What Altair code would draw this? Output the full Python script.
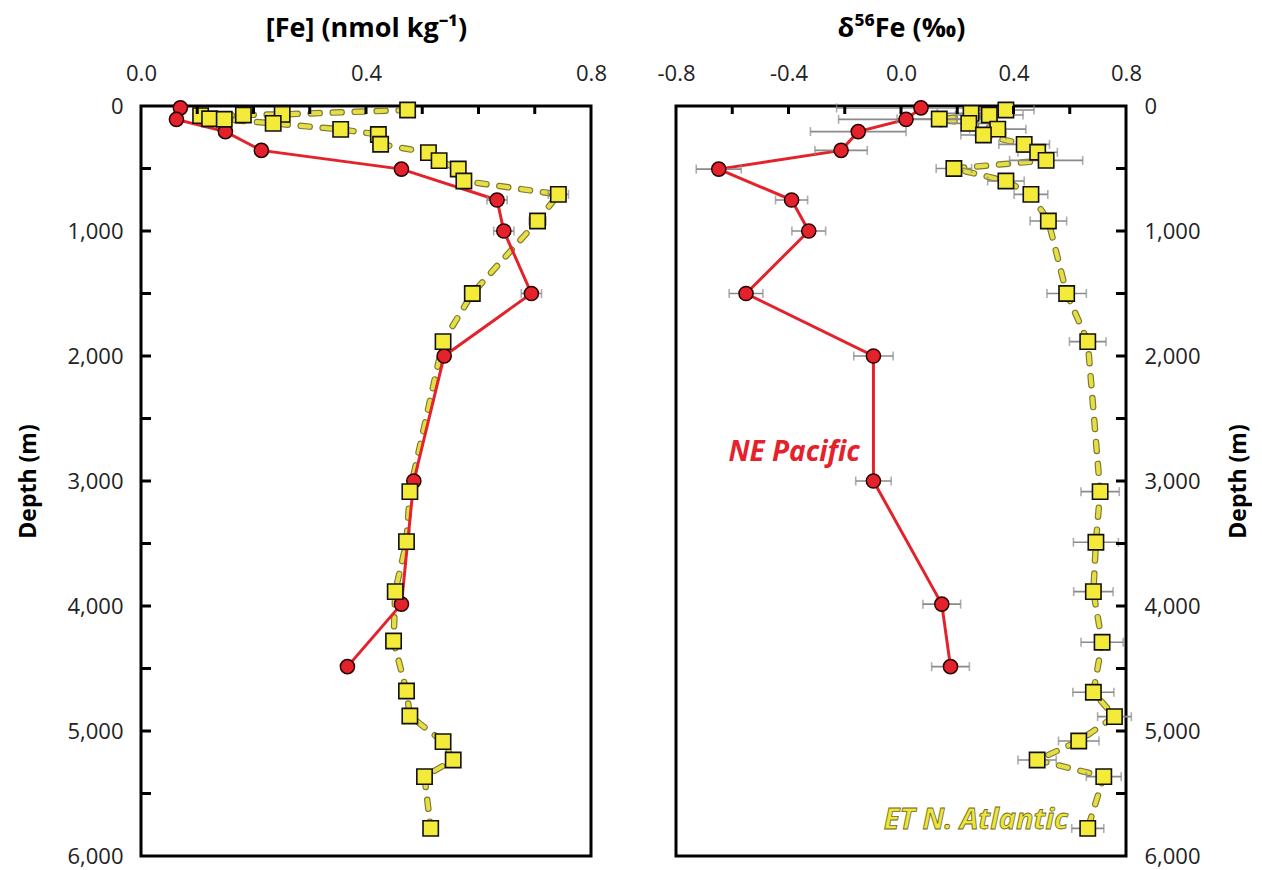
import altair as alt
import pandas as pd

# ---------------- data ----------------
# NE Pacific (red circles)
pac_depth = [15, 107, 205, 355, 505, 752, 1000, 1500, 2000, 3000, 3985, 4485]
pac_fe = [0.070, 0.063, 0.150, 0.214, 0.463, 0.633, 0.645, 0.694, 0.539, 0.485, 0.463, 0.367]
pac_fe_err = [0.008, 0.008, 0.008, 0.008, 0.008, 0.018, 0.018, 0.018, 0.008, 0.008, 0.008, 0.008]
pac_d56 = [0.071, 0.018, -0.152, -0.213, -0.648, -0.389, -0.328, -0.551, -0.098, -0.098, 0.145, 0.176]
pac_d56_err = [0.30, 0.24, 0.17, 0.093, 0.08, 0.057, 0.06, 0.06, 0.07, 0.063, 0.067, 0.067]

# ET N. Atlantic (yellow squares) - [Fe]
atl_fe_depth = [32, 67, 72, 77, 102, 106, 139, 187, 228, 306, 373, 437, 504, 600, 707, 920,
                1500, 1885, 3085, 3485, 3885, 4280, 4680, 4880, 5085, 5232, 5365, 5779]
atl_fe = [0.474, 0.251, 0.182, 0.106, 0.122, 0.148, 0.235, 0.355, 0.422, 0.426, 0.511, 0.530,
          0.564, 0.574, 0.742, 0.705, 0.589, 0.537, 0.478, 0.472, 0.452, 0.449, 0.472, 0.478,
          0.537, 0.555, 0.504, 0.515]
atl_fe_err = [0.008] * 14 + [0.018, 0.015] + [0.008] * 12

# ET N. Atlantic - d56Fe
atl_d_depth = [32, 59, 72, 104, 139, 185, 232, 307, 370, 435, 500, 600, 707, 920, 1500, 1885,
               3085, 3490, 3885, 4290, 4690, 4885, 5080, 5232, 5365, 5779]
atl_d56 = [0.373, 0.249, 0.314, 0.136, 0.241, 0.344, 0.293, 0.438, 0.486, 0.516, 0.188, 0.373,
           0.462, 0.524, 0.589, 0.664, 0.708, 0.693, 0.684, 0.715, 0.684, 0.759, 0.632, 0.484,
           0.721, 0.664]
atl_d56_err = [0.10, 0.12, 0.12, 0.15, 0.10, 0.10, 0.08, 0.09, 0.07, 0.13, 0.063, 0.065, 0.06,
               0.065, 0.07, 0.065, 0.068, 0.08, 0.07, 0.075, 0.073, 0.06, 0.072, 0.068, 0.062, 0.057]

# axis tick values / labels
depth_labels = [0, 1000, 2000, 3000, 4000, 5000, 6000]
depth_minor = [500, 1000, 1500, 2000, 2500, 3000, 3500, 4000, 4500, 5000, 5500]
fe_labels = [0.0, 0.4, 0.8]
fe_minor = [0.1, 0.2, 0.3, 0.4, 0.5, 0.6, 0.7]
d56_labels = [-0.8, -0.4, 0.0, 0.4, 0.8]
d56_minor = [-0.6, -0.4, -0.2, 0.0, 0.2, 0.4, 0.6]

# annotation labels
pac_label = ["NE Pacific"]
pac_label_x = [-0.38]
pac_label_depth = [2776]
atl_label = ["ET N. Atlantic"]
atl_label_x = [0.594]
atl_label_depth = [5712]

# ---------------- styling ----------------
FONT = "Open Sans"
W, H = 450, 750
RED = "#E4222B"
YEL = "#F4EA3A"
DASH_Y = "#E6DE48"
DASH_O = "#7E7A2C"
GRAY = "#8A8A8A"

yscale = alt.Scale(domain=[0, 6000], reverse=True, nice=False, zero=False)
fe_scale = alt.Scale(domain=[0, 0.8], nice=False, zero=False)
d_scale = alt.Scale(domain=[-0.8, 0.8], nice=False, zero=False)


def y_axis(orient):
    return alt.Axis(
        orient=orient, values=depth_labels, format=",.0f", title="Depth (m)",
        ticks=False, domain=False, grid=False, labelFlush=False, labelOverlap=False,
        labelFont=FONT, labelFontSize=22, labelColor="#222222",
        labelPadding=18,
        titleFont=FONT, titleFontSize=23, titleFontWeight="bold", titleColor="#000000",
        titlePadding=26 if orient == "left" else 50, titleAngle=270,
    )


def x_axis(title, values, fmt):
    return alt.Axis(
        orient="top", values=values, format=fmt, title=title,
        labelExpr="replace(datum.label, '\u2212', '-')",
        ticks=False, domain=False, grid=False, labelFlush=False, labelOverlap=False,
        labelFont=FONT, labelFontSize=22, labelColor="#222222", labelPadding=21,
        titleFont=FONT, titleFontSize=27, titleFontWeight="bold", titleColor="#000000",
        titlePadding=20,
    )


def panel(pac_x, pac_err, atl_depth, atl_x, atl_err, scale, xtitle, xlabels, xfmt,
          minor_x, orient, text_layers):
    pac = pd.DataFrame({"depth": pac_depth, "v": pac_x,
                        "lo": [a - b for a, b in zip(pac_x, pac_err)],
                        "hi": [a + b for a, b in zip(pac_x, pac_err)]})
    atl = pd.DataFrame({"depth": atl_depth, "v": atl_x,
                        "lo": [a - b for a, b in zip(atl_x, atl_err)],
                        "hi": [a + b for a, b in zip(atl_x, atl_err)]})
    allerr = pd.concat([pac, atl], ignore_index=True)

    xax = x_axis(xtitle, xlabels, xfmt)
    yax = y_axis(orient)
    Xf = lambda f: alt.X(f, scale=scale, axis=xax)
    Yf = lambda f: alt.Y(f, scale=yscale, axis=yax)

    dash_under = alt.Chart(atl).mark_line(
        color=DASH_O, strokeWidth=6.5, strokeDash=[9, 13], strokeCap="round"
    ).encode(x=Xf("v:Q"), y=Yf("depth:Q"), order="depth:Q")
    dash_top = alt.Chart(atl).mark_line(
        color=DASH_Y, strokeWidth=4.2, strokeDash=[9, 13], strokeCap="round"
    ).encode(x=Xf("v:Q"), y=Yf("depth:Q"), order="depth:Q")
    red_line = alt.Chart(pac).mark_line(color=RED, strokeWidth=3).encode(
        x=Xf("v:Q"), y=Yf("depth:Q"), order="depth:Q")
    err = alt.Chart(allerr).mark_rule(color=GRAY, strokeWidth=1.6).encode(
        x=Xf("lo:Q"), x2="hi:Q", y=Yf("depth:Q"))
    cap_lo = alt.Chart(allerr).mark_tick(orient="vertical", size=9, thickness=1.6,
                                         color=GRAY).encode(x=Xf("lo:Q"), y=Yf("depth:Q"))
    cap_hi = alt.Chart(allerr).mark_tick(orient="vertical", size=9, thickness=1.6,
                                         color=GRAY).encode(x=Xf("hi:Q"), y=Yf("depth:Q"))
    circles = alt.Chart(pac).mark_point(
        shape="circle", filled=True, size=200, fill=RED, stroke="#2a0000",
        strokeWidth=1.5, opacity=1).encode(x=Xf("v:Q"), y=Yf("depth:Q"))
    squares = alt.Chart(atl).mark_point(
        shape="square", filled=True, size=235, fill=YEL, stroke="#111111",
        strokeWidth=1.6, opacity=1).encode(x=Xf("v:Q"), y=Yf("depth:Q"))

    top_ticks = alt.Chart(pd.DataFrame({"t": minor_x})).mark_rule(
        color="black", strokeWidth=3).encode(x=Xf("t:Q"), y=alt.value(0), y2=alt.value(8))
    if orient == "left":
        side = alt.Chart(pd.DataFrame({"t": depth_minor})).mark_rule(
            color="black", strokeWidth=3).encode(
            y=Yf("t:Q"), x=alt.value(0), x2=alt.value(10))
    else:
        side = alt.Chart(pd.DataFrame({"t": depth_minor})).mark_rule(
            color="black", strokeWidth=3).encode(
            y=Yf("t:Q"), x=alt.value(W - 10), x2=alt.value(W))

    texts = [mk(Xf, Yf) for mk in text_layers]
    layers = [dash_under, dash_top, red_line, err, cap_lo, cap_hi, circles, squares,
              top_ticks, side] + texts
    return alt.layer(*layers).properties(width=W, height=H)


def pac_txt(Xf, Yf):
    df = pd.DataFrame({"lab": pac_label, "x": pac_label_x, "d": pac_label_depth})
    return alt.Chart(df).mark_text(
        font=FONT, fontSize=28, fontWeight="bold", fontStyle="italic", color=RED,
        align="center", baseline="middle").encode(x=Xf("x:Q"), y=Yf("d:Q"), text="lab:N")


def atl_txt(Xf, Yf):
    df = pd.DataFrame({"lab": atl_label, "x": atl_label_x, "d": atl_label_depth})
    return alt.Chart(df).mark_text(
        font=FONT, fontSize=29, fontWeight="bold", fontStyle="italic", fill="#EDE43C",
        stroke="#6d6820", strokeWidth=0.8, align="right", baseline="middle").encode(
        x=Xf("x:Q"), y=Yf("d:Q"), text="lab:N")


left = panel(pac_fe, pac_fe_err, atl_fe_depth, atl_fe, atl_fe_err, fe_scale,
             "[Fe] (nmol kg\u207b\u00b9)", fe_labels, ".1f", fe_minor, "left", [])

right = panel(pac_d56, pac_d56_err, atl_d_depth, atl_d56, atl_d56_err, d_scale,
              "\u03b4\u2075\u2076Fe (\u2030)", d56_labels, ".1f", d56_minor, "right",
              [pac_txt, atl_txt])

chart = alt.hconcat(left, right, spacing=47).properties(
    padding={"left": 8, "top": 4, "right": 0, "bottom": 0},
    background="white",
).configure_view(stroke="black", strokeWidth=3)

chart.save("out.html", embed_options={"renderer": "svg", "actions": False})
